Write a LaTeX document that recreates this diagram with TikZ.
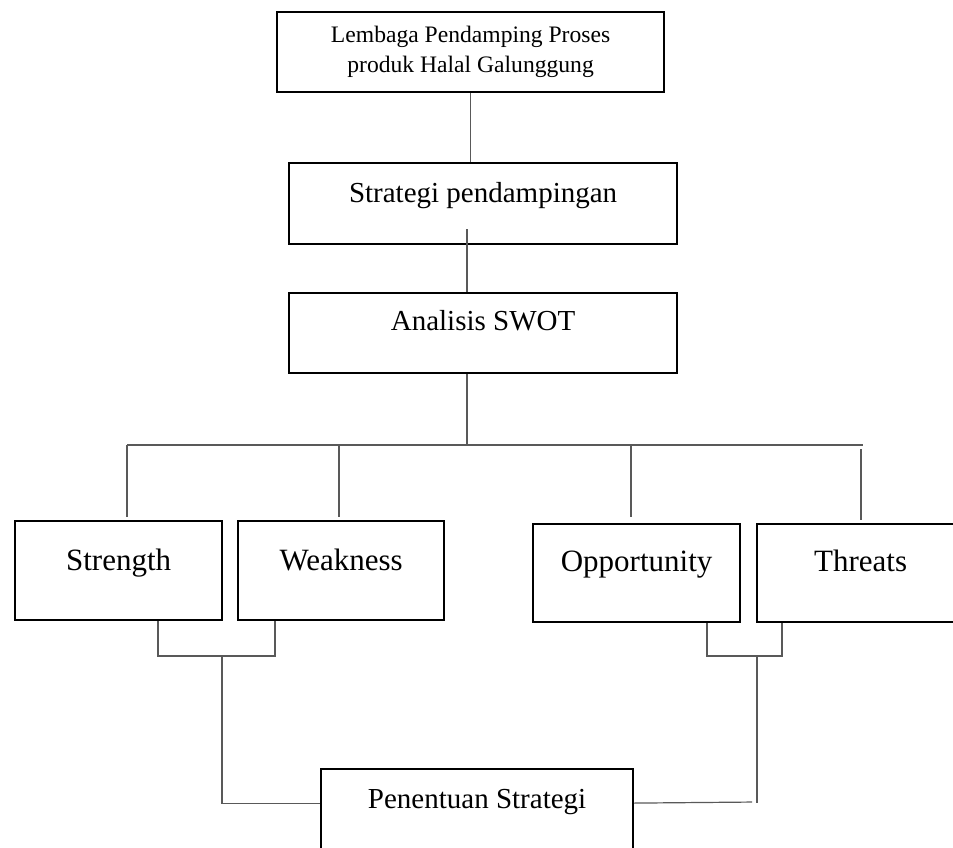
\documentclass[tikz,border=0pt]{standalone}
\usepackage{fontspec}
\setmainfont{Liberation Serif}
\tikzset{
  box/.style={draw, line width=2.2pt, inner sep=0pt, anchor=north west},
  link/.style={line width=1.2pt, black!65},
}
\begin{document}
\begin{tikzpicture}[x=1pt, y=-1pt]
  \clip (0,0) rectangle (953,848);
  % boxes
  \node[box, minimum width=387pt, minimum height=80pt, align=center,
    font=\fontsize{23.6}{30}\selectfont] (lembaga) at (276,11)
    {\raisebox{-2.5pt}{Lembaga Pendamping Proses}\\\raisebox{-2.5pt}{produk Halal Galunggung}};
  \node[box, minimum width=388pt, text height=39pt, text depth=42pt,
    font=\fontsize{29}{35}\selectfont] (strategi) at (288,162) {Strategi pendampingan};
  \node[box, minimum width=388pt, text height=37pt, text depth=43pt,
    font=\fontsize{29}{35}\selectfont] (analisis) at (288,292) {Analisis SWOT};
  \node[box, minimum width=207pt, text height=49pt, text depth=50pt,
    font=\fontsize{31}{37}\selectfont] (strength) at (14,520) {Strength};
  \node[box, minimum width=206pt, text height=49pt, text depth=50pt,
    font=\fontsize{31}{37}\selectfont] (weakness) at (237,520) {Weakness};
  \node[box, minimum width=207pt, text height=47pt, text depth=51pt,
    font=\fontsize{31}{37}\selectfont] (opportunity) at (532,523) {Opportunity};
  \node[box, minimum width=207pt, text height=47pt, text depth=51pt,
    font=\fontsize{31}{37}\selectfont] (threats) at (756,523) {Threats};
  \node[box, minimum width=312pt, text height=39pt, text depth=41pt,
    font=\fontsize{29}{35}\selectfont] (penentuan) at (320,768) {Penentuan Strategi};
  % junction points
  \coordinate (sIn) at (467,229);
  \coordinate (bar) at (467,445);
  \coordinate (barL) at (127,445);
  \coordinate (barR) at (863,445);
  \coordinate (dW) at (339,445);
  \coordinate (dO) at (631,445);
  \coordinate (dT) at (861,449);
  \coordinate (jS) at (158,656);
  \coordinate (jW) at (275,656);
  \coordinate (jSW) at (222,656);
  \coordinate (jO) at (707,656);
  \coordinate (jT) at (782,656);
  \coordinate (jOT) at (757,656);
  \coordinate (endR) at (757,803);
  \coordinate (mR) at (757,802);
  % connectors
  \draw[link] (lembaga.south) -- (lembaga.south |- strategi.north);
  \draw[link] (sIn) -- (sIn |- analisis.north);
  \draw[link] (bar |- analisis.south) -- (bar);
  \draw[link] (barL) -- (barR);
  \draw[link, shorten >=3pt] (barL) -- (barL |- strength.north);
  \draw[link, shorten >=3pt] (dW) -- (dW |- weakness.north);
  \draw[link, shorten >=6pt] (dO) -- (dO |- opportunity.north);
  \draw[link, shorten >=3pt] (dT) -- (dT |- threats.north);
  \draw[link] (jS |- strength.south) -- (jS) -- (jW) -- (jW |- weakness.south);
  \draw[link] (jSW) |- ([yshift=6pt]penentuan.west);
  \draw[link] (jO |- opportunity.south) -- (jO) -- (jT) -- (jT |- threats.south);
  \draw[link] (jOT) -- (endR);
  \draw[link, shorten >=5pt] ([yshift=6pt]penentuan.east) -- (mR);
\end{tikzpicture}
\end{document}
